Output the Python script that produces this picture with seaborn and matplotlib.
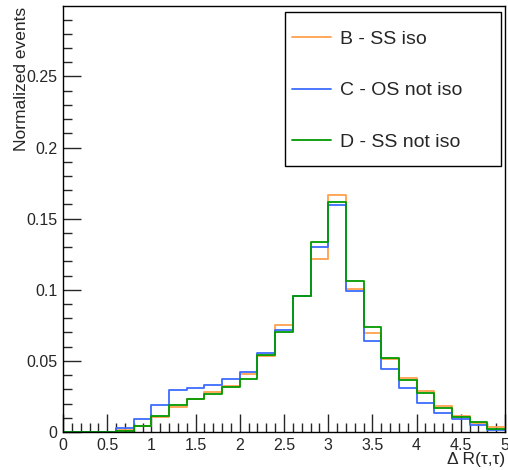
import numpy as np
import pandas as pd
import seaborn as sns
import matplotlib
matplotlib.use('Agg')
import matplotlib.pyplot as plt
from matplotlib.lines import Line2D
from matplotlib.patches import Rectangle
from matplotlib.ticker import MultipleLocator, FormatStrFormatter

# bin edges 0..5 in steps of 0.2 (25 bins)
edges = [round(0.2 * i, 2) for i in range(26)]
centers = [(a + b) / 2 for a, b in zip(edges[:-1], edges[1:])]

b_ss_iso = [0, 0, 0, 0.0015, 0.0042, 0.0108, 0.0178, 0.0235, 0.0282, 0.0320,
            0.0408, 0.0535, 0.0749, 0.0953, 0.1218, 0.1664, 0.1005, 0.0697,
            0.0516, 0.0383, 0.0286, 0.0185, 0.0113, 0.0061, 0.0035]
c_os_noiso = [0, 0, 0, 0.0030, 0.0092, 0.0190, 0.0296, 0.0308, 0.0331, 0.0371,
              0.0425, 0.0554, 0.0720, 0.0953, 0.1298, 0.1594, 0.0993, 0.0638,
              0.0444, 0.0308, 0.0201, 0.0131, 0.0092, 0.0049, 0.0012]
d_ss_noiso = [0, 0, 0, 0.0005, 0.0045, 0.0115, 0.0188, 0.0232, 0.0265, 0.0319,
              0.0376, 0.0540, 0.0706, 0.0953, 0.1333, 0.1617, 0.1063, 0.0737,
              0.0521, 0.0369, 0.0272, 0.0167, 0.0103, 0.0070, 0.0021]

labels = ['B - SS iso', 'C - OS not iso', 'D - SS not iso']
colors = ['#ffa04d', '#3d6bff', '#009a00']

rows = []
for lab, vals in zip(labels, [b_ss_iso, c_os_noiso, d_ss_noiso]):
    for c, v in zip(centers, vals):
        rows.append({'x': c, 'w': v, 'sample': lab})
df = pd.DataFrame(rows)

sns.set_style('ticks')
plt.rcParams['font.family'] = ['Liberation Sans', 'DejaVu Sans']

fig = plt.figure(figsize=(5.08, 4.70), dpi=100)
ax = fig.add_axes([63/508, 38/470, 442/508, 426/470])

# seaborn draws hue levels back to front, so reverse to keep D on top
sns.histplot(data=df, x='x', weights='w', hue='sample', hue_order=labels[::-1],
             palette=dict(zip(labels, colors)), bins=edges, element='step',
             fill=False, linewidth=1.3, legend=False, ax=ax)

ax.set_xlim(0, 5)
ax.set_ylim(0, 0.2995)
ax.xaxis.set_major_locator(MultipleLocator(0.5))
ax.xaxis.set_minor_locator(MultipleLocator(0.1))
ax.yaxis.set_major_locator(MultipleLocator(0.05))
ax.yaxis.set_minor_locator(MultipleLocator(0.01))
ax.xaxis.set_major_formatter(FormatStrFormatter('%g'))
ax.yaxis.set_major_formatter(FormatStrFormatter('%g'))
ax.tick_params(which='both', direction='in', labelsize=11.5, top=False, right=False)
ax.tick_params(which='major', length=13, width=1)
ax.tick_params(which='minor', length=6.5, width=1)
ax.tick_params(axis='x', pad=4)
ax.tick_params(axis='y', pad=4)
for s in ax.spines.values():
    s.set_visible(True)
    s.set_color('black')
    s.set_linewidth(1)

ax.set_xlabel('\u0394 R(\u03c4,\u03c4)', fontsize=12.5, ha='right')
ax.xaxis.set_label_coords(1.0, -0.048)
ax.xaxis.label.set_va('top')
ax.set_ylabel('Normalized events', fontsize=12.5, ha='right')
ax.yaxis.set_label_coords(-0.076, 0.998)

# legend box like ROOT's TLegend
ax.add_patch(Rectangle((0.5016, 0.624), 0.4894, 0.362, transform=ax.transAxes,
                       facecolor='white', edgecolor='black', lw=1, zorder=5))
handles = [Line2D([], [], color=c, lw=1.3) for c in colors]
leg = ax.legend(handles, labels, loc='upper left', bbox_to_anchor=(0.518, 0.943),
                borderaxespad=0, borderpad=0, fontsize=14, frameon=False,
                handlelength=2.0, handletextpad=0.45, labelspacing=1.74)
leg.set_zorder(6)

fig.savefig('out.png', dpi=100)
